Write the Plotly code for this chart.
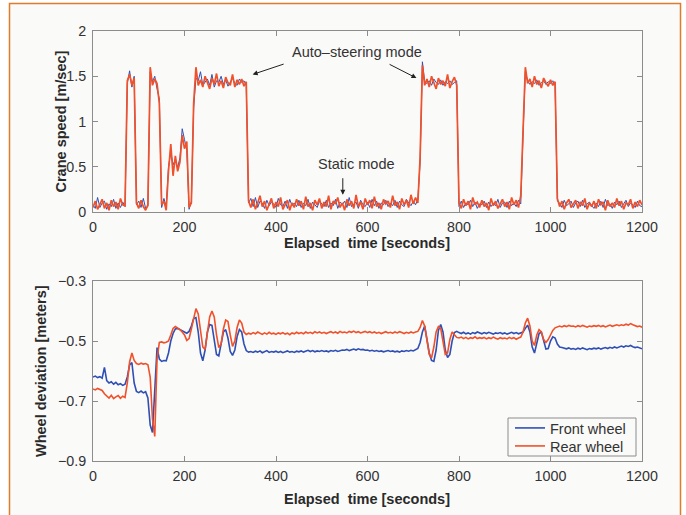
import plotly.graph_objects as go

# ---------------- data (sampled every 5 s, 0..1200 s) ----------------
time_step = 5

speed_front = [
    0.08,0.04,0.16,0.05,0.10,0.12,0.03,0.09,0.06,0.14,
    0.04,0.10,0.05,0.11,0.06,1.42,1.56,1.38,1.50,0.08,
    0.12,0.05,0.15,0.04,0.06,1.55,1.44,1.50,1.36,1.25,
    0.05,0.15,0.06,0.50,0.66,0.52,0.58,0.49,0.60,0.92,
    0.80,0.68,0.03,0.12,1.15,1.48,1.45,1.55,1.40,1.44,
    1.47,1.40,1.52,1.38,1.45,1.43,1.50,1.41,1.46,1.39,
    1.44,1.48,1.42,1.40,1.47,1.43,1.45,1.40,0.10,0.15,
    0.06,0.16,0.05,0.12,0.10,0.04,0.13,0.07,0.11,0.09,
    0.05,0.15,0.08,0.06,0.12,0.04,0.14,0.07,0.10,0.06,
    0.13,0.05,0.10,0.07,0.14,0.04,0.11,0.08,0.05,0.12,
    0.09,0.06,0.13,0.05,0.10,0.07,0.14,0.04,0.11,0.08,
    0.12,0.05,0.16,0.06,0.09,0.11,0.04,0.13,0.08,0.06,
    0.11,0.05,0.14,0.07,0.12,0.04,0.10,0.08,0.13,0.06,
    0.10,0.07,0.13,0.05,0.12,0.08,0.06,0.14,0.10,0.07,
    0.12,0.08,0.14,0.55,1.66,1.44,1.42,1.45,1.40,1.47,
    1.43,1.41,1.46,1.40,1.44,1.42,1.45,1.41,1.43,1.45,
    0.06,0.12,0.05,0.10,0.08,0.13,0.06,0.11,0.04,0.09,
    0.08,0.12,0.05,0.11,0.06,0.10,0.07,0.14,0.05,0.10,
    0.11,0.05,0.12,0.07,0.10,0.06,0.13,0.09,0.85,1.55,
    1.45,1.41,1.44,1.42,1.46,1.40,1.43,1.45,1.41,1.44,
    1.42,1.45,1.40,0.12,0.10,0.05,0.13,0.07,0.09,0.12,
    0.05,0.10,0.12,0.06,0.13,0.05,0.09,0.11,0.07,0.04,
    0.10,0.06,0.12,0.05,0.14,0.07,0.09,0.04,0.11,0.08,
    0.12,0.05,0.09,0.13,0.06,0.10,0.08,0.05,0.12,0.07,
    0.06,
]

speed_rear = [
    0.05,0.12,0.03,0.09,0.14,0.04,0.10,0.02,0.13,0.06,
    0.11,0.03,0.15,0.08,0.07,1.45,1.52,1.40,1.48,0.10,
    0.04,0.13,0.06,0.02,0.08,1.60,1.40,1.47,1.42,1.20,
    0.08,0.12,0.02,0.45,0.75,0.40,0.62,0.45,0.55,0.85,
    0.70,0.78,0.05,0.10,1.20,1.60,1.40,1.46,1.38,1.50,
    1.42,1.36,1.48,1.41,1.53,1.39,1.45,1.37,1.49,1.43,
    1.40,1.52,1.38,1.46,1.41,1.47,1.39,1.44,0.12,0.05,
    0.14,0.03,0.10,0.18,0.06,0.12,0.02,0.09,0.15,0.04,
    0.11,0.06,0.16,0.03,0.08,0.13,0.02,0.10,0.05,0.14,
    0.07,0.12,0.03,0.17,0.06,0.10,0.02,0.13,0.08,0.15,
    0.04,0.11,0.06,0.18,0.03,0.12,0.09,0.16,0.05,0.10,
    0.02,0.14,0.07,0.12,0.04,0.19,0.06,0.11,0.03,0.15,
    0.08,0.13,0.04,0.17,0.06,0.10,0.03,0.14,0.09,0.12,
    0.05,0.18,0.07,0.11,0.03,0.15,0.08,0.13,0.05,0.19,
    0.09,0.16,0.10,0.60,1.62,1.40,1.47,1.38,1.50,1.42,
    1.36,1.48,1.41,1.45,1.39,1.52,1.37,1.44,1.49,1.40,
    0.10,0.04,0.14,0.07,0.12,0.03,0.16,0.08,0.11,0.05,
    0.13,0.06,0.10,0.02,0.15,0.07,0.12,0.04,0.09,0.14,
    0.06,0.11,0.03,0.16,0.08,0.13,0.05,0.18,0.90,1.60,
    1.42,1.47,1.38,1.50,1.41,1.45,1.37,1.48,1.43,1.39,
    1.46,1.40,1.44,0.15,0.06,0.12,0.03,0.10,0.14,0.05,
    0.09,0.13,0.04,0.11,0.07,0.15,0.03,0.10,0.06,0.12,
    0.04,0.14,0.08,0.11,0.02,0.13,0.06,0.10,0.05,0.15,
    0.07,0.12,0.03,0.10,0.08,0.14,0.04,0.11,0.06,0.13,
    0.08,
]

dev_front = [
    -0.620,-0.617,-0.622,-0.619,-0.624,-0.588,-0.632,-0.640,-0.636,-0.644,
    -0.638,-0.646,-0.642,-0.648,-0.644,-0.620,-0.580,-0.572,-0.640,-0.668,
    -0.672,-0.667,-0.673,-0.669,-0.690,-0.780,-0.805,-0.640,-0.522,-0.560,
    -0.568,-0.565,-0.566,-0.540,-0.500,-0.475,-0.460,-0.458,-0.462,-0.466,
    -0.470,-0.474,-0.468,-0.450,-0.425,-0.422,-0.470,-0.540,-0.566,-0.530,
    -0.470,-0.445,-0.448,-0.500,-0.545,-0.550,-0.510,-0.470,-0.462,-0.490,
    -0.535,-0.548,-0.530,-0.485,-0.462,-0.470,-0.510,-0.532,-0.537,-0.535,
    -0.538,-0.534,-0.537,-0.533,-0.539,-0.536,-0.532,-0.538,-0.535,-0.537,
    -0.534,-0.538,-0.535,-0.539,-0.536,-0.533,-0.537,-0.535,-0.538,-0.534,
    -0.536,-0.533,-0.537,-0.534,-0.531,-0.535,-0.532,-0.536,-0.533,-0.535,
    -0.532,-0.535,-0.533,-0.536,-0.532,-0.534,-0.531,-0.535,-0.532,-0.530,
    -0.531,-0.528,-0.532,-0.529,-0.527,-0.530,-0.526,-0.529,-0.528,-0.531,
    -0.530,-0.533,-0.531,-0.534,-0.532,-0.535,-0.533,-0.536,-0.534,-0.532,
    -0.535,-0.533,-0.536,-0.534,-0.537,-0.533,-0.535,-0.532,-0.534,-0.531,
    -0.533,-0.530,-0.525,-0.505,-0.470,-0.450,-0.490,-0.540,-0.565,-0.568,
    -0.530,-0.465,-0.445,-0.470,-0.530,-0.555,-0.545,-0.500,-0.472,-0.468,
    -0.472,-0.475,-0.471,-0.476,-0.473,-0.477,-0.472,-0.475,-0.470,-0.474,
    -0.476,-0.472,-0.475,-0.471,-0.474,-0.477,-0.473,-0.475,-0.472,-0.476,
    -0.473,-0.477,-0.474,-0.471,-0.475,-0.472,-0.476,-0.473,-0.470,-0.458,
    -0.447,-0.470,-0.520,-0.540,-0.510,-0.475,-0.470,-0.500,-0.527,-0.525,
    -0.500,-0.486,-0.490,-0.510,-0.520,-0.522,-0.524,-0.526,-0.523,-0.527,
    -0.525,-0.528,-0.524,-0.527,-0.523,-0.526,-0.529,-0.525,-0.527,-0.524,
    -0.526,-0.523,-0.527,-0.524,-0.522,-0.525,-0.521,-0.524,-0.520,-0.523,
    -0.519,-0.517,-0.520,-0.516,-0.518,-0.515,-0.519,-0.522,-0.520,-0.524,
    -0.526,
]

dev_rear = [
    -0.660,-0.663,-0.658,-0.662,-0.665,-0.676,-0.684,-0.690,-0.681,-0.692,
    -0.686,-0.682,-0.691,-0.684,-0.688,-0.640,-0.570,-0.540,-0.565,-0.575,
    -0.578,-0.574,-0.577,-0.575,-0.579,-0.620,-0.760,-0.818,-0.560,-0.505,
    -0.503,-0.506,-0.504,-0.500,-0.480,-0.458,-0.452,-0.456,-0.462,-0.470,
    -0.480,-0.498,-0.492,-0.460,-0.420,-0.392,-0.410,-0.470,-0.520,-0.528,
    -0.480,-0.420,-0.400,-0.420,-0.480,-0.522,-0.510,-0.460,-0.430,-0.435,
    -0.480,-0.518,-0.500,-0.455,-0.430,-0.440,-0.470,-0.478,-0.474,-0.477,
    -0.472,-0.476,-0.470,-0.475,-0.478,-0.473,-0.477,-0.471,-0.476,-0.474,
    -0.478,-0.473,-0.476,-0.472,-0.477,-0.474,-0.479,-0.473,-0.476,-0.471,
    -0.475,-0.472,-0.476,-0.470,-0.474,-0.471,-0.475,-0.469,-0.473,-0.470,
    -0.474,-0.471,-0.475,-0.472,-0.469,-0.473,-0.470,-0.474,-0.468,-0.472,
    -0.470,-0.473,-0.468,-0.471,-0.467,-0.472,-0.469,-0.473,-0.470,-0.468,
    -0.472,-0.469,-0.473,-0.470,-0.474,-0.471,-0.475,-0.472,-0.469,-0.473,
    -0.471,-0.474,-0.470,-0.473,-0.469,-0.472,-0.475,-0.471,-0.474,-0.470,
    -0.473,-0.470,-0.468,-0.455,-0.432,-0.450,-0.500,-0.545,-0.556,-0.520,
    -0.470,-0.452,-0.458,-0.500,-0.545,-0.540,-0.495,-0.470,-0.478,-0.488,
    -0.490,-0.487,-0.492,-0.488,-0.493,-0.489,-0.491,-0.486,-0.492,-0.489,
    -0.491,-0.488,-0.493,-0.489,-0.492,-0.487,-0.491,-0.494,-0.489,-0.492,
    -0.490,-0.493,-0.488,-0.492,-0.489,-0.494,-0.490,-0.487,-0.470,-0.440,
    -0.424,-0.450,-0.500,-0.515,-0.480,-0.462,-0.470,-0.495,-0.505,-0.495,
    -0.480,-0.465,-0.456,-0.452,-0.450,-0.453,-0.449,-0.452,-0.448,-0.451,
    -0.450,-0.453,-0.449,-0.452,-0.448,-0.451,-0.454,-0.450,-0.452,-0.449,
    -0.451,-0.448,-0.452,-0.449,-0.453,-0.450,-0.447,-0.451,-0.448,-0.446,
    -0.449,-0.446,-0.448,-0.444,-0.447,-0.442,-0.446,-0.449,-0.452,-0.450,
    -0.454,
]

x_ticks = [0, 200, 400, 600, 800, 1000, 1200]
speed_ticks = [0, 0.5, 1, 1.5, 2]
speed_tick_labels = ["0", "0.5", "1", "1.5", "2"]
dev_ticks = [-0.9, -0.7, -0.5, -0.3]
dev_tick_labels = ["\u22120.9", "\u22120.7", "\u22120.5", "\u22120.3"]
series_names = ["Front wheel", "Rear wheel"]

# ---------------- styling ----------------
W, H = 686, 515
BLUE = "#2f4fb4"
ORANGE = "#f0502a"
FONT = "Liberation Sans, Arial, sans-serif"
TXT = "#333333"
AX = "#8c8c8c"
BG = "#fafaf9"
FS = 14.5

def t_of(vals):
    return [i * time_step for i in range(len(vals))]

fig = go.Figure()
fig.add_trace(go.Scatter(x=t_of(speed_front), y=speed_front, mode="lines",
                         line=dict(color=BLUE, width=1.0), showlegend=False,
                         xaxis="x", yaxis="y"))
fig.add_trace(go.Scatter(x=t_of(speed_rear), y=speed_rear, mode="lines",
                         line=dict(color=ORANGE, width=1.7), showlegend=False,
                         xaxis="x", yaxis="y"))
fig.add_trace(go.Scatter(x=t_of(dev_front), y=dev_front, mode="lines",
                         name=series_names[0], legend="legend",
                         line=dict(color=BLUE, width=1.6),
                         xaxis="x2", yaxis="y2"))
fig.add_trace(go.Scatter(x=t_of(dev_rear), y=dev_rear, mode="lines",
                         name=series_names[1], legend="legend2",
                         line=dict(color=ORANGE, width=1.6),
                         xaxis="x2", yaxis="y2"))

def px_x(p):
    return p / W

def px_y(p):
    return 1 - p / H

x0, x1 = 93, 642
top_t, top_b = 31, 212
bot_t, bot_b = 281, 461

axis_common = dict(showline=True, linecolor=AX, linewidth=1, mirror="ticks",
                   ticks="inside", ticklen=5, tickcolor=AX, showgrid=False,
                   zeroline=False, automargin=False,
                   tickfont=dict(family=FONT, size=14.3, color=TXT))

legend_common = dict(xanchor="left", yanchor="top", bgcolor="rgba(0,0,0,0)",
                     borderwidth=0, font=dict(family=FONT, size=FS, color=TXT),
                     itemwidth=30)

fig.update_layout(
    template="none",
    width=W, height=H, autosize=False,
    margin=dict(l=0, r=0, t=0, b=0, pad=0),
    paper_bgcolor="white",
    plot_bgcolor=BG,
    font=dict(family=FONT, size=FS, color=TXT),
    xaxis=dict(domain=[px_x(x0), px_x(x1)], range=[0, 1200], tickvals=x_ticks,
               anchor="y", ticklabelstandoff=2, **axis_common),
    yaxis=dict(domain=[px_y(top_b), px_y(top_t)], range=[0, 2],
               tickvals=speed_ticks, ticktext=speed_tick_labels,
               anchor="x", ticklabelstandoff=3, **axis_common),
    xaxis2=dict(domain=[px_x(x0), px_x(x1)], range=[0, 1200], tickvals=x_ticks,
                anchor="y2", ticklabelstandoff=2, **axis_common),
    yaxis2=dict(domain=[px_y(bot_b), px_y(bot_t)], range=[-0.9, -0.3],
                tickvals=dev_ticks, ticktext=dev_tick_labels,
                anchor="x2", ticklabelstandoff=3, **axis_common),
    legend=dict(x=px_x(510), y=px_y(412), **legend_common),
    legend2=dict(x=px_x(510), y=px_y(430), **legend_common),
    shapes=[dict(type="rect", xref="paper", yref="paper", layer="below",
                 x0=px_x(9.5), x1=px_x(680.5), y0=-0.2, y1=px_y(3.5),
                 line=dict(color="#e07b2c", width=1.5), fillcolor=BG),
            dict(type="rect", xref="paper", yref="paper", layer="above",
                 x0=px_x(508), x1=px_x(636), y0=px_y(456), y1=px_y(418),
                 line=dict(color=AX, width=1), fillcolor=BG)],
)

title_font = dict(family=FONT, size=FS, color="#2a2a2a")
annotations = [
    dict(text="<b>Crane speed [m/sec]</b>", xref="paper", yref="paper",
         x=px_x(60), y=px_y((top_t + top_b) / 2), textangle=-90,
         showarrow=False, font=title_font, xanchor="center", yanchor="middle"),
    dict(text="<b>Wheel deviation [meters]</b>", xref="paper", yref="paper",
         x=px_x(41), y=px_y((bot_t + bot_b) / 2), textangle=-90,
         showarrow=False, font=title_font, xanchor="center", yanchor="middle"),
    dict(text="<b>Elapsed\u00a0 time [seconds]</b>", xref="paper", yref="paper",
         x=px_x(367), y=px_y(242.5), showarrow=False, font=title_font,
         xanchor="center", yanchor="middle"),
    dict(text="<b>Elapsed\u00a0 time [seconds]</b>", xref="paper", yref="paper",
         x=px_x(367), y=px_y(498.5), showarrow=False, font=title_font,
         xanchor="center", yanchor="middle"),
    # text labels in the speed plot
    dict(text="Auto\u2013steering mode", xref="x", yref="y", x=578, y=1.77,
         showarrow=False, font=dict(family=FONT, size=FS, color=TXT)),
    dict(text="Static mode", xref="x", yref="y", x=577, y=0.53,
         showarrow=False, font=dict(family=FONT, size=FS, color=TXT)),
    # arrows
    dict(text="", xref="x", yref="y", x=349, y=1.52, ax=420, ay=1.64,
         axref="x", ayref="y", showarrow=True, arrowhead=2, arrowsize=1,
         arrowwidth=1, arrowcolor="#222", standoff=0, startstandoff=0),
    dict(text="", xref="x", yref="y", x=707, y=1.48, ax=645, ay=1.64,
         axref="x", ayref="y", showarrow=True, arrowhead=2, arrowsize=1,
         arrowwidth=1, arrowcolor="#222", standoff=0, startstandoff=0),
    dict(text="", xref="x", yref="y", x=546, y=0.19, ax=546, ay=0.39,
         axref="x", ayref="y", showarrow=True, arrowhead=2, arrowsize=1,
         arrowwidth=1, arrowcolor="#222", standoff=0, startstandoff=0),
]
fig.update_layout(annotations=annotations)

fig.write_html(
    "out.html",
    config={"displayModeBar": False},
    post_script="document.body.style.margin='0';document.body.style.overflow='hidden';",
)
